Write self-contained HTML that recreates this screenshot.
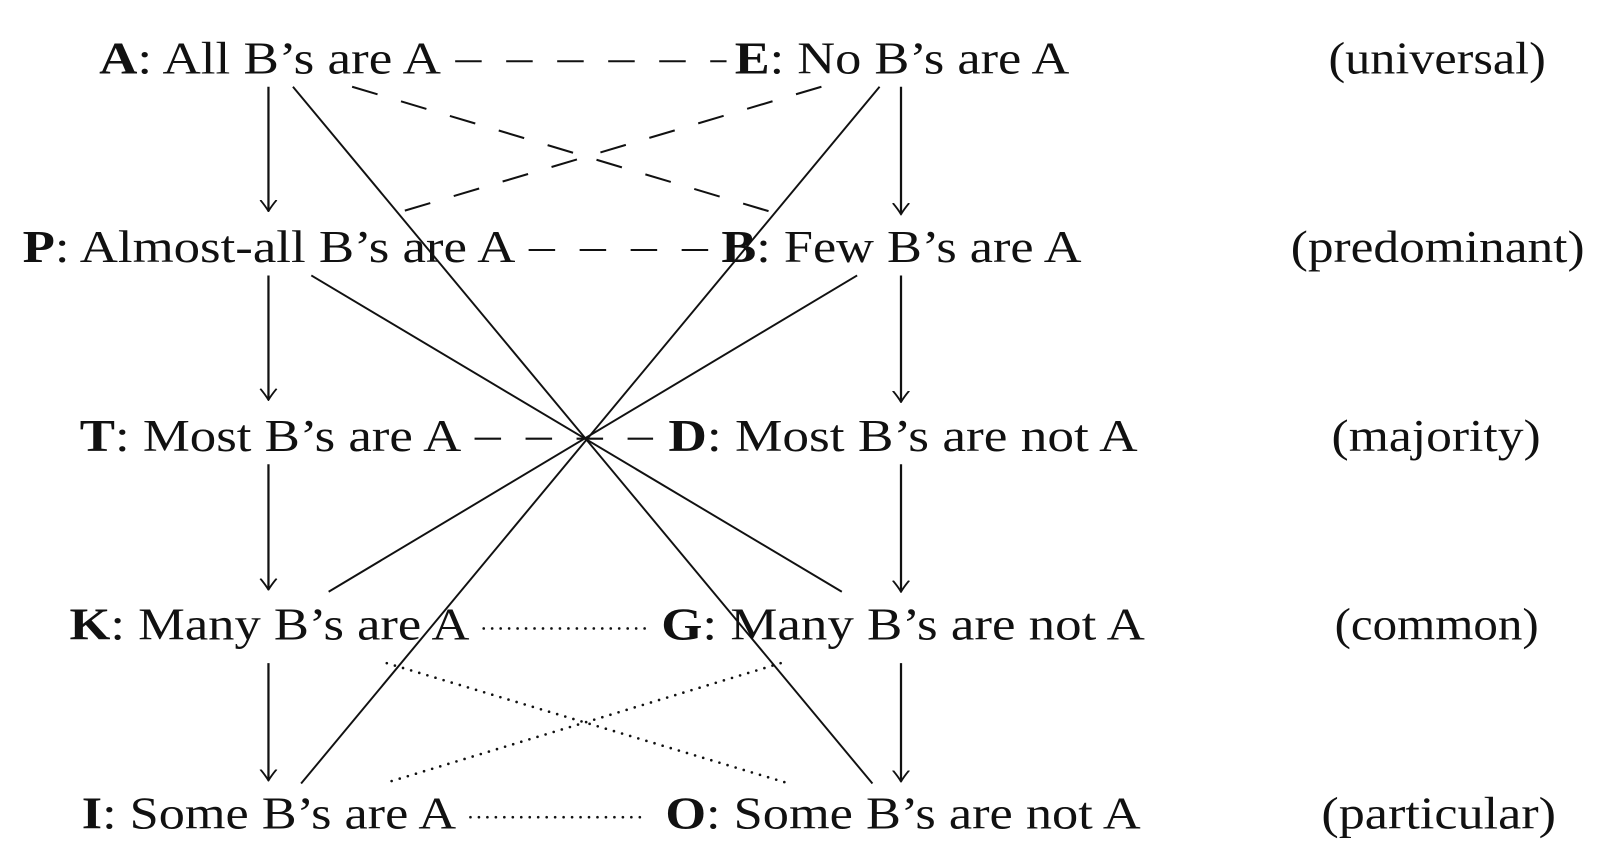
<!DOCTYPE html>
<html><head><meta charset="utf-8"><style>
html,body{margin:0;padding:0;background:#fff;}
svg{display:block;}
text{font-family:"Liberation Serif",serif;font-size:45px;fill:#111;}
.b{font-weight:bold;}
</style></head><body>
<svg width="1600" height="857" viewBox="0 0 1568 840" xmlns="http://www.w3.org/2000/svg">
<defs>
<marker id="ar" viewBox="0 0 12 20" refX="11" refY="10" markerWidth="12" markerHeight="20" markerUnits="userSpaceOnUse" orient="auto">
<path d="M0,2 Q6,7 11,10 Q6,13 0,18" fill="none" stroke="#111" stroke-width="1.8"/>
</marker>
</defs>
<g>
<text x="97" y="72" textLength="335" lengthAdjust="spacingAndGlyphs"><tspan class="b">A</tspan>: All B’s are A</text>
<text x="720" y="72" textLength="328" lengthAdjust="spacingAndGlyphs"><tspan class="b">E</tspan>: No B’s are A</text>
<text x="1302" y="72" textLength="213" lengthAdjust="spacingAndGlyphs">(universal)</text>

<text x="22" y="257" textLength="483" lengthAdjust="spacingAndGlyphs"><tspan class="b">P</tspan>: Almost-all B’s are A</text>
<text x="707" y="257" textLength="353" lengthAdjust="spacingAndGlyphs"><tspan class="b">B</tspan>: Few B’s are A</text>
<text x="1265" y="257" textLength="288" lengthAdjust="spacingAndGlyphs">(predominant)</text>

<text x="78" y="442" textLength="374" lengthAdjust="spacingAndGlyphs"><tspan class="b">T</tspan>: Most B’s are A</text>
<text x="655" y="442" textLength="460" lengthAdjust="spacingAndGlyphs"><tspan class="b">D</tspan>: Most B’s are not A</text>
<text x="1305" y="442" textLength="205" lengthAdjust="spacingAndGlyphs">(majority)</text>

<text x="68" y="627" textLength="392" lengthAdjust="spacingAndGlyphs"><tspan class="b">K</tspan>: Many B’s are A</text>
<text x="648" y="627" textLength="474" lengthAdjust="spacingAndGlyphs"><tspan class="b">G</tspan>: Many B’s are not A</text>
<text x="1308" y="627" textLength="200" lengthAdjust="spacingAndGlyphs">(common)</text>

<text x="80" y="812" textLength="367" lengthAdjust="spacingAndGlyphs"><tspan class="b">I</tspan>: Some B’s are A</text>
<text x="652" y="812" textLength="466" lengthAdjust="spacingAndGlyphs"><tspan class="b">O</tspan>: Some B’s are not A</text>
<text x="1295" y="812" textLength="230" lengthAdjust="spacingAndGlyphs">(particular)</text>
</g>
<g stroke="#111" fill="none" stroke-width="2.2">
<line x1="263" y1="85" x2="263" y2="207" marker-end="url(#ar)"/>
<line x1="263" y1="270" x2="263" y2="392" marker-end="url(#ar)"/>
<line x1="263" y1="455" x2="263" y2="578" marker-end="url(#ar)"/>
<line x1="263" y1="650" x2="263" y2="765" marker-end="url(#ar)"/>
<line x1="883" y1="85" x2="883" y2="210" marker-end="url(#ar)"/>
<line x1="883" y1="270" x2="883" y2="394" marker-end="url(#ar)"/>
<line x1="883" y1="455" x2="883" y2="580" marker-end="url(#ar)"/>
<line x1="883" y1="650" x2="883" y2="766" marker-end="url(#ar)"/>
</g>
<g stroke="#111" fill="none" stroke-width="1.9">
<line x1="287" y1="85" x2="855" y2="768"/>
<line x1="862" y1="85" x2="295" y2="768"/>
<line x1="305" y1="270" x2="825" y2="580"/>
<line x1="840" y1="270" x2="322" y2="580"/>
</g>
<g stroke="#111" fill="none" stroke-width="2" stroke-dasharray="26,24">
<line x1="446" y1="60" x2="712" y2="60"/>
<line x1="518" y1="245" x2="696" y2="245"/>
<line x1="465" y1="430" x2="640" y2="430"/>
<line x1="345" y1="85" x2="770" y2="212"/>
<line x1="805" y1="85" x2="378" y2="212"/>
</g>
<g stroke="#111" fill="none" stroke-width="2.6" stroke-linecap="round" stroke-dasharray="0,8.3">
<line x1="474" y1="616" x2="632" y2="616"/>
<line x1="461" y1="801" x2="632" y2="801"/>
<line x1="379" y1="650" x2="770" y2="767"/>
<line x1="765" y1="650" x2="379" y2="767"/>
</g>
</svg>
</body></html>
